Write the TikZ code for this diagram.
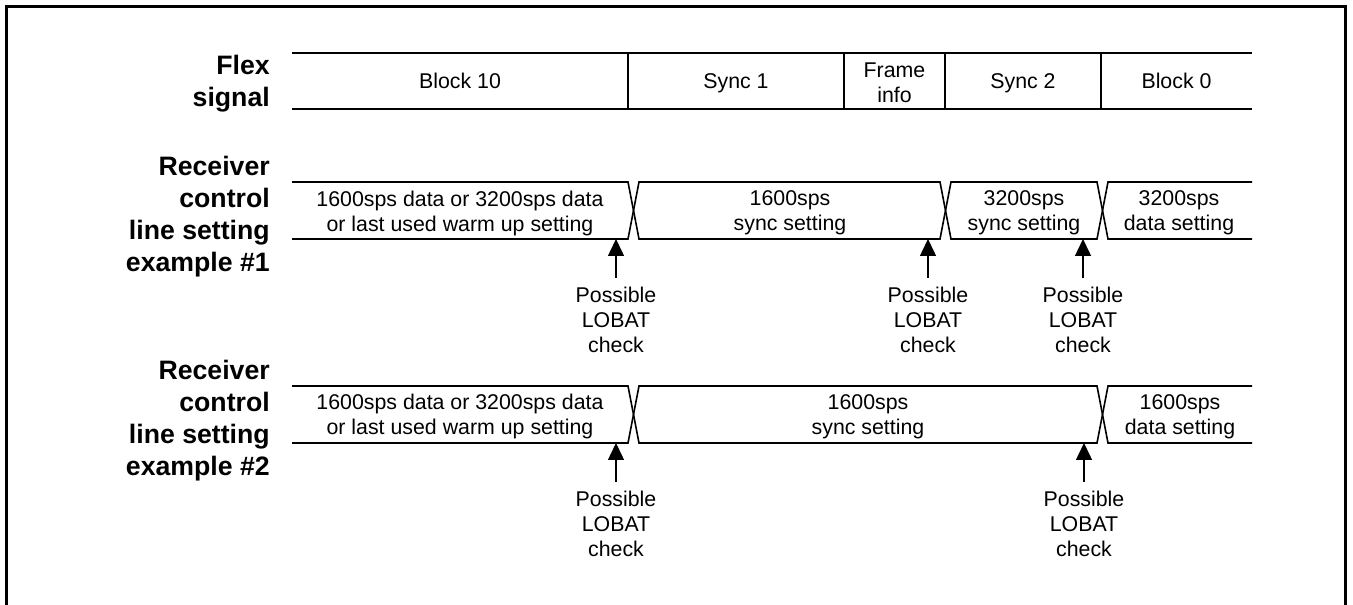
\documentclass[tikz,border=0pt]{standalone}
\usepackage{fontspec}
\setmainfont{Liberation Sans}
\usepackage{tikz}
\usetikzlibrary{arrows.meta,positioning}
\tikzstyle{rowlabel} = [anchor=east, align=right, inner sep=0pt, font=\bfseries\fontsize{20}{24}\selectfont]
\tikzstyle{cell} = [align=center, inner sep=0pt, font=\fontsize{16}{18.75}\selectfont]
\tikzstyle{wave} = [line width=1.2pt]
\tikzstyle{divider} = [line width=0.8pt]
\tikzstyle{lobat} = [align=center, anchor=north, inner xsep=0pt, inner ysep=6.75pt, font=\fontsize{16}{18.75}\selectfont]
\tikzstyle{lobatarrow} = [line width=1.1pt, -{Triangle[width=12pt,length=12.75pt]}]

\begin{document}
\begin{tikzpicture}[x=0.75pt,y=-0.75pt]
\useasboundingbox (0,0) rectangle (1353,605);
% Outer frame, bottom edge runs off the page
\draw[line width=2.25pt] (6,605) -- (6,7) -- (1345,7) -- (1345,605);

% Row labels
\node[rowlabel] (flexlbl) at (270,84) {Flex\\signal};
\node[rowlabel] (ex1lbl) at (270,216.5) {Receiver\\control\\line setting\\example \#1};
\node[rowlabel] (ex2lbl) at (270,420.5) {Receiver\\control\\line setting\\example \#2};

% Flex signal
\draw[wave] (292,53) -- (1252,53) (292,109) -- (1252,109);
\foreach \x in {628,844,945,1101}
  \draw[divider] (\x,53) -- (\x,109);
\node[cell, anchor=base] (blk10) at (460,89) {Block 10};
\node[cell, anchor=base] (sync1) at (736,89) {Sync 1};
\node[cell] (finfo) at (894.5,83) {Frame\\info};
\node[cell, anchor=base] (sync2) at (1023,89) {Sync 2};
\node[cell, anchor=base] (blk0) at (1176.5,89) {Block 0};

% Example #1
\draw[wave] (292,182) -- (628,182) -- (639,239) -- (940,239) -- (951,182) -- (1097,182) -- (1108,239) -- (1252,239);
\draw[wave] (292,239) -- (628,239) -- (639,182) -- (940,182) -- (951,239) -- (1097,239) -- (1108,182) -- (1252,182);
\node[cell] (r1warm) at (460,213) {1600sps data or 3200sps data\\or last used warm up setting};
\node[cell] (r1sync) at (790,213) {1600sps\\sync setting};
\node[cell] (r1sync2) at (1024,213) {3200sps\\sync setting};
\node[cell] (r1data) at (1179,213) {3200sps\\data setting};

\coordinate (t11) at (616,239);
\coordinate (t12) at (928,239);
\coordinate (t13) at (1083,239);
\node[lobat, below=29.25pt of t11] (l11) {Possible\\LOBAT\\check};
\node[lobat, below=29.25pt of t12] (l12) {Possible\\LOBAT\\check};
\node[lobat, below=29.25pt of t13] (l13) {Possible\\LOBAT\\check};
\foreach \n in {11,12,13}
  \draw[lobatarrow] (l\n.north) -- (t\n);

% Example #2
\draw[wave] (292,386) -- (628,386) -- (639,443) -- (1097,443) -- (1108,386) -- (1252,386);
\draw[wave] (292,443) -- (628,443) -- (639,386) -- (1097,386) -- (1108,443) -- (1252,443);
\node[cell] (r2warm) at (460,416.5) {1600sps data or 3200sps data\\or last used warm up setting};
\node[cell] (r2sync) at (868,416.5) {1600sps\\sync setting};
\node[cell] (r2data) at (1180,416.5) {1600sps\\data setting};

\coordinate (t21) at (616,443);
\coordinate (t22) at (1084,443);
\node[lobat, below=29.25pt of t21] (l21) {Possible\\LOBAT\\check};
\node[lobat, below=29.25pt of t22] (l22) {Possible\\LOBAT\\check};
\foreach \n in {21,22}
  \draw[lobatarrow] (l\n.north) -- (t\n);
\end{tikzpicture}
\end{document}
